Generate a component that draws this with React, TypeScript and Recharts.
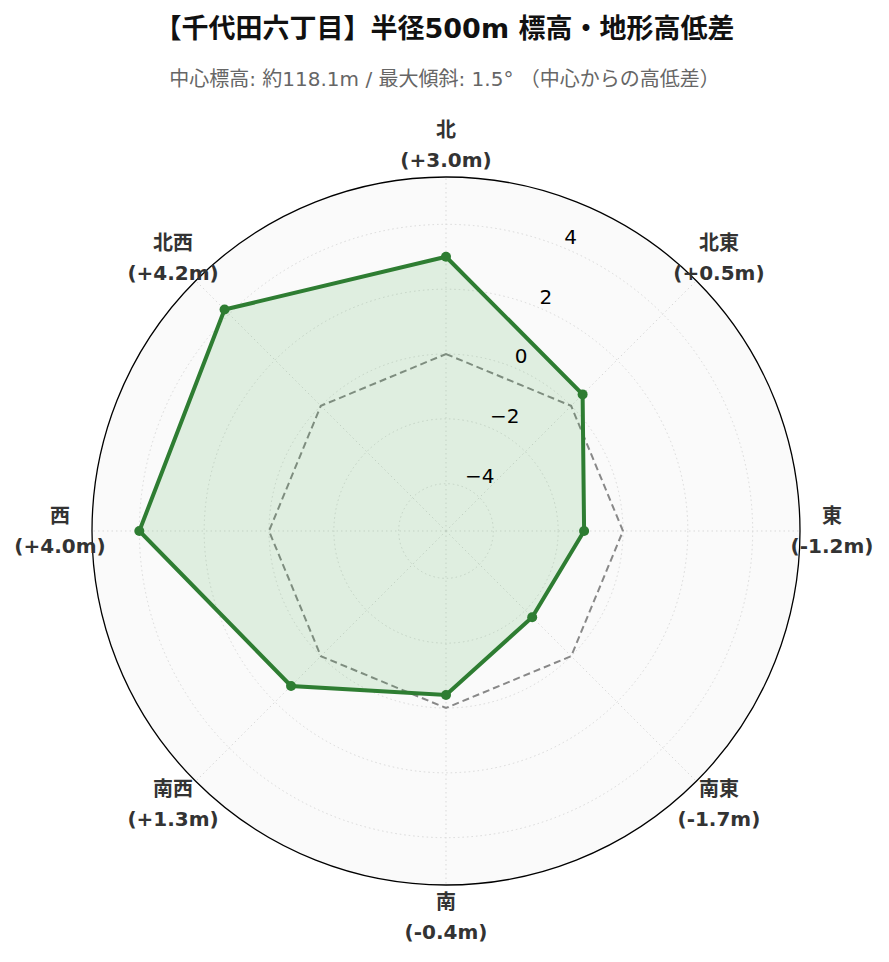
import React from "react";
import { RadarChart, Radar, PolarGrid, PolarAngleAxis, PolarRadiusAxis } from "recharts";

const directions = ["北", "北東", "東", "南東", "南", "南西", "西", "北西"];
const heightDiff = [3.0, 0.5, -1.2, -1.7, -0.4, 1.3, 4.0, 4.2];
const baseline = [0, 0, 0, 0, 0, 0, 0, 0];
const radiusTicks = [-4, -2, 0, 2, 4];
const radiusDomain: [number, number] = [-5.46, 5.46];

const W = 889;
const H = 962;
const CX = 446;
const CY = 531;
const R = 354;
const LABEL_R = 386;
const GREEN = "#2e7d32";
const FONT = '"DejaVu Sans", "Noto Sans CJK JP", sans-serif';

const data = directions.map((d, i) => ({ dir: d, value: heightDiff[i], zero: baseline[i] }));

const fmt = (v: number) => `(${v >= 0 ? "+" : "-"}${Math.abs(v).toFixed(1)}m)`;

function AngleTick(props: any) {
  const { x, y, index, payload } = props;
  const a = Math.atan2(y - CY, x - CX);
  const lx = CX + LABEL_R * Math.cos(a);
  const ly = CY + LABEL_R * Math.sin(a);
  return (
    <text x={lx} y={ly} textAnchor="middle" fill="#333" fontFamily={FONT} fontWeight="bold" fontSize={20}>
      <tspan x={lx} dy={-8}>{payload.value}</tspan>
      <tspan x={lx} dy={30}>{fmt(heightDiff[index])}</tspan>
    </text>
  );
}

function RadiusTick(props: any) {
  const { x, y, payload } = props;
  const s = String(payload.value).replace("-", "\u2212");
  return (
    <text x={x + 1} y={y - 4} textAnchor="start" fill="#000" fontFamily="DejaVu Sans" fontSize={20}>
      {s}
    </text>
  );
}

function GreenDot(props: any) {
  const { cx, cy, index } = props;
  return <circle key={`d${index}`} cx={cx} cy={cy} r={5} fill={GREEN} fillOpacity={1} stroke="none" />;
}

export default function App() {
  return (
    <div style={{ position: "absolute", left: 0, top: 0, width: W, height: H, background: "#fff" }}>
      <div style={{ position: "absolute", top: 7, width: W, textAlign: "center", fontFamily: FONT, fontWeight: "bold", fontSize: 27, color: "#111" }}>
        【千代田六丁目】半径500m 標高・地形高低差
      </div>
      <div style={{ position: "absolute", top: 63, width: W, textAlign: "center", fontFamily: FONT, fontSize: 20, color: "#666" }}>
        中心標高: 約118.1m / 最大傾斜: 1.5° （中心からの高低差）
      </div>
      <svg width={W} height={H} style={{ position: "absolute", left: 0, top: 0 }}>
        <circle cx={CX} cy={CY} r={R} fill="#fafafa" stroke="#000" strokeWidth={1.3} />
      </svg>
      <div style={{ position: "absolute", left: 0, top: 0 }}>
        <RadarChart
          width={W}
          height={H}
          data={data}
          cx={CX}
          cy={CY}
          outerRadius={R}
          startAngle={90}
          endAngle={-270}
          margin={{ top: 0, right: 0, bottom: 0, left: 0 }}
        >
          <PolarGrid gridType="circle" stroke="#d9d9d9" strokeDasharray="1.5 3" />
          <PolarAngleAxis dataKey="dir" tick={<AngleTick />} tickLine={false} axisLine={false} />
          <PolarRadiusAxis
            angle={67.5}
            type="number"
            domain={radiusDomain}
            ticks={radiusTicks}
            allowDataOverflow
            tick={<RadiusTick />}
            tickLine={false}
            axisLine={false}
          />
          <Radar
            dataKey="zero"
            stroke="#888"
            strokeWidth={2}
            strokeDasharray="7 4"
            fill="none"
            fillOpacity={0}
            isAnimationActive={false}
          />
          <Radar
            dataKey="value"
            stroke={GREEN}
            strokeWidth={4}
            fill="#4caf50"
            fillOpacity={0.15}
            dot={GreenDot}
            isAnimationActive={false}
          />
        </RadarChart>
      </div>
    </div>
  );
}
